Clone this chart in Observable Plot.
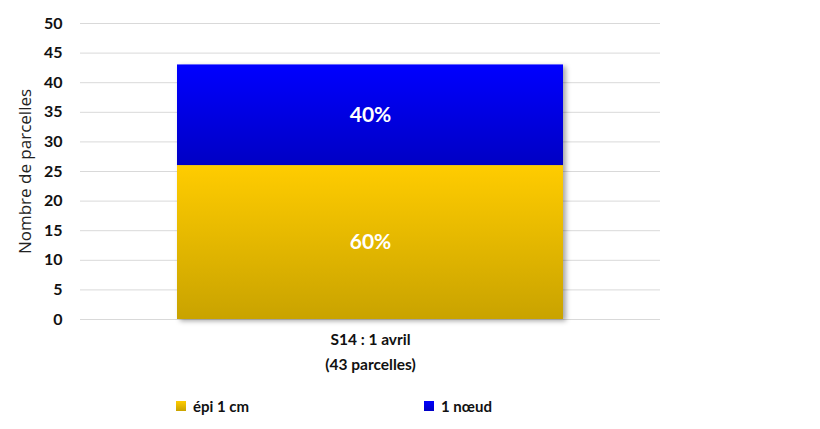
<!DOCTYPE html>
<html><head><meta charset="utf-8">
<script src="https://cdn.jsdelivr.net/npm/d3@7"></script>
<script src="https://cdn.jsdelivr.net/npm/@observablehq/plot@0.6"></script>
<style>
body{margin:0;background:#fff;font-family:Lato,"Open Sans",sans-serif;}
#legend{position:relative;height:30px;font:bold 15px Lato,sans-serif;color:#111;}
.li{position:absolute;top:12px;display:flex;align-items:center;}
.sw{width:10px;height:10px;margin-right:7px;}
</style></head>
<body><div id="chart"></div><div id="legend"></div>
<script>
const categories = ["S14 : 1 avril\n(43 parcelles)"];
const stages = ["épi 1 cm", "1 nœud"];
const counts = [26, 17];
const yTicks = [0,5,10,15,20,25,30,35,40,45,50];
const colors = ["#ffcc00", "#0000ff"];

const total = d3.sum(counts);
const data = stages.map((s,i)=>({cat:categories[0], stage:s, n:counts[i], pct: Math.round(100*counts[i]/total)+"%"}));

const plot = Plot.plot({
  width: 820, height: 385,
  marginLeft: 80, marginRight: 160, marginTop: 23, marginBottom: 66,
  style:{fontFamily:"Lato, 'Open Sans', sans-serif", background:"#fff"},
  x:{domain:categories, padding:0.2, label:null},
  y:{domain:[0,50], label:null},
  color:{domain:stages, range:["url(#g0)","url(#g1)"]},
  marks:[
    Plot.ruleY(yTicks, {stroke:"#d9d9d9", strokeWidth:1}),
    Plot.barY(data, Plot.stackY({x:"cat", y:"n", fill:"stage", order:stages})),
    Plot.text(data, Plot.stackY({x:"cat", y:"n", z:"stage", text:"pct", order:stages, fill:"white", fontSize:21, fontWeight:"bold"})),
    Plot.axisY({ticks:yTicks, tickSize:0, tickPadding:18, fontSize:16, fontWeight:"bold", fill:"#111", label:null}),
    Plot.axisX({tickSize:0, tickPadding:8, fontSize:15.5, fontWeight:"bold", fill:"#111", lineHeight:1.6, label:null}),
    Plot.text(["Nombre de parcelles"], {frameAnchor:"left", dx:-55, rotate:-90, textAnchor:"middle", fontSize:17, fontFamily:"'Open Sans', sans-serif", fill:"#222"})
  ]
});
const svg = d3.select(plot);
const defs = svg.insert("defs", ":first-child");
const grads = [["#ffcc00","#c9a300"],["#0000ff","#0000c4"]];
grads.forEach((g,i)=>{
  const lg = defs.append("linearGradient").attr("id","g"+i).attr("x1",0).attr("y1",0).attr("x2",0).attr("y2",1);
  lg.append("stop").attr("offset","0%").attr("stop-color",g[0]);
  lg.append("stop").attr("offset","100%").attr("stop-color",g[1]);
});
const f = defs.append("filter").attr("id","sh").attr("x","-5%").attr("y","-5%").attr("width","115%").attr("height","115%");
f.append("feDropShadow").attr("dx",3).attr("dy",2).attr("stdDeviation",2.5).attr("flood-color","#000").attr("flood-opacity",0.35);
svg.selectAll("g").filter(function(){return this.getAttribute("aria-label")==="bar";}).attr("filter","url(#sh)");
document.getElementById("chart").appendChild(plot);

const leg = document.getElementById("legend");
const lx = [176, 424];
stages.forEach((s,i)=>{
  const d = document.createElement("div"); d.className="li"; d.style.left=lx[i]+"px";
  d.innerHTML = `<span class="sw" style="background:linear-gradient(${grads[i][0]},${grads[i][1]})"></span>${s}`;
  leg.appendChild(d);
});
</script></body></html>
